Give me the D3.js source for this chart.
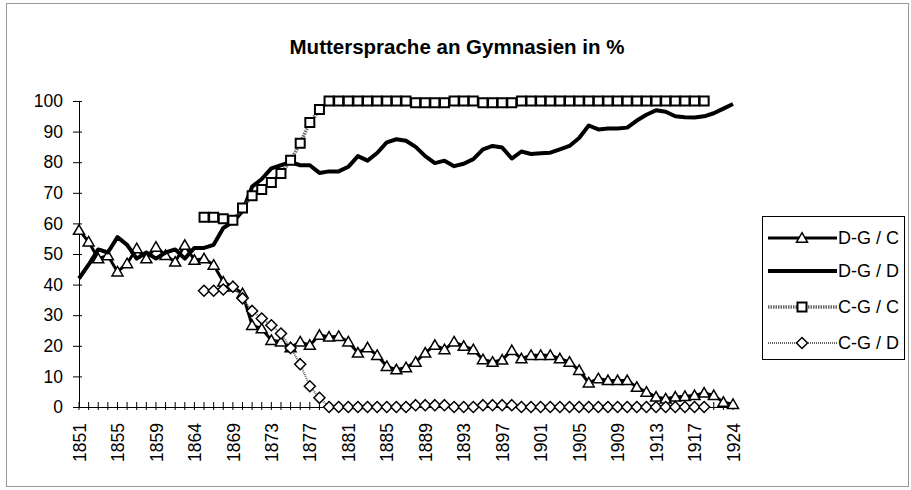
<!DOCTYPE html>
<html>
<head>
<meta charset="utf-8">
<script src="https://cdn.jsdelivr.net/npm/d3@7"></script>
<style>
  html, body { margin: 0; padding: 0; background: #fff; }
  svg { display: block; font-family: "Liberation Sans", Arial, sans-serif; }
</style>
</head>
<body>
<svg id="chart" width="911" height="490"></svg>
<script>
// ---- data ----
const years = [
  "1851","1852","1853","1854","1855","1856","1857","1858","1859",
  "1861","1862","1863","1864","1866","1867","1868",
  "1869","1870","1871","1872","1873","1874","1875","1876","1877","1878","1879","1880",
  "1881","1882","1883","1884","1885","1886","1887","1888","1889","1890",
  "1891","1892","1893","1894","1895","1896","1897","1898","1899","1900",
  "1901","1902","1903","1904","1905","1906","1907","1908","1909","1910",
  "1911","1912","1913","1914","1915","1916","1917",
  "1918","1920","1922","1924"
];

const dgC = [57.8,54,48.5,49.5,44.2,46.9,51.8,48.5,52.3,49.6,47.4,52.9,48,48.5,46.4,40.9,39.3,37.1,26.7,25.6,
  21.8,21.3,19.4,21.3,20.2,23.5,22.9,23.1,21.3,17.7,19.4,16.9,13.3,12.2,12.9,14.7,17.7,20.2,18.8,21.3,
  19.9,18.8,15.5,14.7,15.4,18.5,15.8,16.9,16.9,16.9,15.8,14.7,12,7.9,9.3,8.7,8.7,8.7,6.5,4.9,
  3.3,2.7,3.3,3.5,3.8,4.6,3.8,1.6,0.9];

const dgD = [42,46.5,51.5,50.5,55.5,53,48.5,50.5,48.5,50.5,51.5,48.5,52,52,53,58.5,60.5,64,72,74.5,
  78,79,80,79,79,76.5,77,77,78.5,82,80.5,83,86.5,87.5,87,85,82,79.7,80.5,78.7,
  79.5,81,84.2,85.3,84.8,81.2,83.5,82.7,82.9,83.1,84.2,85.3,87.9,92,90.7,91,91,91.3,93.6,95.5,
  97,96.5,95,94.7,94.6,95,96,97.5,99];

const cgC = [null,null,null,null,null,null,null,null,null,null,null,null,null,62,62,61.5,61,65,69,71.1,
  73.4,76.3,80.6,86.2,93,97.2,100,100,100,100,100,100,100,100,100,99.4,99.4,99.4,99.4,100,
  100,100,99.4,99.4,99.4,99.4,100,100,100,100,100,100,100,100,100,100,100,100,100,100,
  100,100,100,100,100,100,null,null,null];

const cgD = [null,null,null,null,null,null,null,null,null,null,null,null,null,38,38,38.4,39.3,35.5,31.4,28.9,
  26.7,24,19.3,14,6.8,3,0,0,0,0,0,0,0,0,0,0.6,0.6,0.6,0.6,0,
  0,0,0.6,0.6,0.6,0.6,0,0,0,0,0,0,0,0,0,0,0,0,0,0,
  0,0,0,0,0,0,null,null,null];

const seriesNames = ["D-G / C", "D-G / D", "C-G / C", "C-G / D"];
const yTicks = [0,10,20,30,40,50,60,70,80,90,100];
const titleText = "Muttersprache an Gymnasien in %";

// ---- chart ----
const svg = d3.select("#chart");
const x = d3.scalePoint().domain(years).range([79, 733]);
const y = d3.scaleLinear().domain([0, 100]).range([407, 101]);

// outer frame
svg.append("rect").attr("x", 6.5).attr("y", 3.5).attr("width", 902).attr("height", 483)
  .attr("fill", "none").attr("stroke", "#999").attr("stroke-width", 1);

// title
svg.append("text").attr("x", 457).attr("y", 54).attr("text-anchor", "middle")
  .attr("font-size", 20.5).attr("font-weight", "bold").attr("fill", "#000").text(titleText);

// y axis
const yAxis = d3.axisLeft(y).tickValues(yTicks).tickSizeInner(6).tickSizeOuter(0).tickPadding(10);
const gy = svg.append("g").attr("transform", "translate(79,0)").call(yAxis);
gy.select(".domain").attr("stroke", "#000");
gy.selectAll(".tick line").attr("x2", -6).attr("x1", 3).attr("stroke", "#000");
gy.selectAll(".tick text").attr("font-size", 17.5).attr("font-family", "Liberation Sans, Arial, sans-serif")
  .attr("fill", "#000").attr("x", -16);

// x axis
const xAxis = d3.axisBottom(x).tickValues(years.filter((d, i) => i % 4 === 0))
  .tickSizeOuter(0).tickSizeInner(0);
const gx = svg.append("g").attr("transform", "translate(0,407)").call(xAxis);
gx.select(".domain").attr("stroke", "#000");
gx.selectAll(".tick text").attr("font-size", 17.5).attr("font-family", "Liberation Sans, Arial, sans-serif")
  .attr("fill", "#000").attr("transform", "rotate(-90)").attr("text-anchor", "end")
  .attr("x", -16).attr("y", 0).attr("dy", "0.35em");
// cross ticks at every category
svg.append("g").selectAll("line").data(years).join("line")
  .attr("x1", d => x(d)).attr("x2", d => x(d)).attr("y1", 402).attr("y2", 410)
  .attr("stroke", "#000").attr("stroke-width", 1);

// series
const defs = [
  { name: seriesNames[0], data: dgC, width: 3, color: "#000", dash: null, marker: "triangle" },
  { name: seriesNames[1], data: dgD, width: 4, color: "#000", dash: null, marker: null },
  { name: seriesNames[2], data: cgC, width: 3.5, color: "#666", dash: "1.5,1", marker: "square" },
  { name: seriesNames[3], data: cgD, width: 2, color: "#666", dash: "1,1", marker: "diamond" }
];

function markerPath(type) {
  if (type === "triangle") return d3.symbol(d3.symbolTriangle, 52)();
  if (type === "square") return "M-4.5,-4.5L4.5,-4.5L4.5,4.5L-4.5,4.5Z";
  if (type === "diamond") return "M0,-5.5L5.5,0L0,5.5L-5.5,0Z";
  return null;
}

const line = d3.line().defined(d => d.v !== null).x(d => x(d.k)).y(d => y(d.v)).curve(d3.curveLinear);

defs.forEach(s => {
  const pts = years.map((k, i) => ({ k, v: s.data[i] === undefined ? null : s.data[i] }));
  svg.append("path").datum(pts).attr("d", line).attr("fill", "none")
    .attr("stroke", s.color).attr("stroke-width", s.width)
    .attr("stroke-linejoin", "round").attr("stroke-dasharray", s.dash);
  if (s.marker) {
    svg.append("g").selectAll("path").data(pts.filter(d => d.v !== null)).join("path")
      .attr("d", markerPath(s.marker))
      .attr("transform", d => `translate(${x(d.k)},${y(d.v) + (s.marker === "triangle" ? 1 : 0)})`)
      .attr("fill", "#fff").attr("stroke", "#000").attr("stroke-width", s.marker === "square" ? 2 : 1.5);
  }
});

// legend
const lg = svg.append("g");
lg.append("rect").attr("x", 762.5).attr("y", 216.5).attr("width", 142).attr("height", 143)
  .attr("fill", "#fff").attr("stroke", "#000").attr("stroke-width", 1);
const rowY = [238, 271, 307, 343];
defs.forEach((s, i) => {
  const ry = rowY[i];
  lg.append("line").attr("x1", 768).attr("x2", 837).attr("y1", ry).attr("y2", ry)
    .attr("stroke", s.color).attr("stroke-width", s.width).attr("stroke-dasharray", s.dash);
  if (s.marker) {
    lg.append("path").attr("d", markerPath(s.marker))
      .attr("transform", `translate(802,${ry + (s.marker === "triangle" ? 1 : 0)})`)
      .attr("fill", "#fff").attr("stroke", "#000").attr("stroke-width", s.marker === "square" ? 2 : 1.5);
  }
  lg.append("text").attr("x", 838).attr("y", ry).attr("dy", "0.35em")
    .attr("font-size", 18).attr("fill", "#000").text(s.name);
});
</script>
</body>
</html>
